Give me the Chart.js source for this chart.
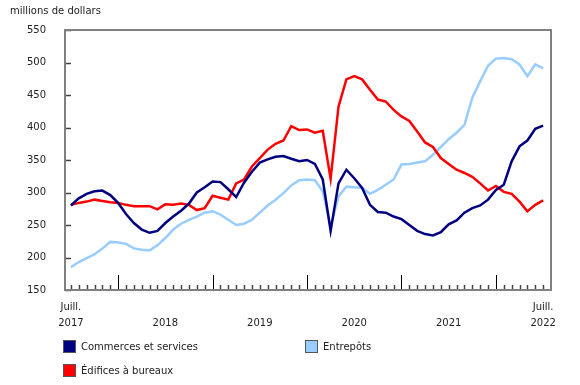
<!DOCTYPE html>
<html>
<head>
<meta charset="utf-8">
<script src="https://cdn.jsdelivr.net/npm/chart.js@4.4.0/dist/chart.umd.min.js"></script>
<style>
body { margin: 0; background: #fff; font-family: "DejaVu Sans", Verdana, sans-serif; }
#wrap { position: relative; width: 580px; height: 385px; }
#title { position: absolute; left: 10px; top: 5px; font-size: 10px; color: #222; }
.leg { position: absolute; font-size: 10px; color: #222; display: flex; align-items: center; }
.leg span { display: inline-block; width: 11px; height: 11px; border: 1px solid #555; margin-right: 5px; }
</style>
</head>
<body>
<div id="wrap">
    <canvas id="myChart" width="580" height="385"></canvas>
    <div id="title">millions de dollars</div>
    <div id="legend"></div>
</div>
<script>
// monthly, juillet 2017 -> juillet 2022
var months = ["2017-07", "2017-08", "2017-09", "2017-10", "2017-11", "2017-12",
    "2018-01", "2018-02", "2018-03", "2018-04", "2018-05", "2018-06", "2018-07", "2018-08", "2018-09", "2018-10", "2018-11", "2018-12",
    "2019-01", "2019-02", "2019-03", "2019-04", "2019-05", "2019-06", "2019-07", "2019-08", "2019-09", "2019-10", "2019-11", "2019-12",
    "2020-01", "2020-02", "2020-03", "2020-04", "2020-05", "2020-06", "2020-07", "2020-08", "2020-09", "2020-10", "2020-11", "2020-12",
    "2021-01", "2021-02", "2021-03", "2021-04", "2021-05", "2021-06", "2021-07", "2021-08", "2021-09", "2021-10", "2021-11", "2021-12",
    "2022-01", "2022-02", "2022-03", "2022-04", "2022-05", "2022-06", "2022-07"];

var commerces = [280, 291, 298, 302, 303, 296, 284, 267, 253, 243,
    238, 241, 253, 263, 272, 283, 300, 308, 317, 316,
    305, 293, 315, 332, 346, 351, 355, 356, 352, 348,
    350, 344, 320, 241, 314, 335, 322, 307, 281, 270,
    269, 263, 259, 250, 241, 236, 234, 239, 251, 257,
    269, 276, 280, 289, 304, 312, 348, 371, 380, 398,
    403];

var entrepots = [185, 193, 199, 205, 214, 224, 223, 221, 214, 212,
    211, 219, 230, 243, 252, 258, 263, 269, 271, 266,
    258, 250, 252, 258, 269, 280, 289, 299, 311, 319,
    320, 319, 302, 247, 294, 309, 308, 307, 298, 304,
    312, 320, 343, 344, 346, 348, 358, 370, 382, 392,
    404, 446, 471, 495, 506, 507, 505, 497, 479, 497,
    491];

var bureaux = [281, 284, 286, 289, 287, 285, 284, 281, 279, 279,
    279, 274, 282, 281, 283, 281, 273, 276, 295, 292,
    289, 314, 320, 340, 353, 366, 375, 380, 402, 396,
    397, 392, 395, 321, 432, 474, 479, 474, 458, 443,
    440, 427, 417, 410, 394, 377, 370, 353, 344, 335,
    330, 324, 314, 303, 310, 301, 298, 286, 271, 281,
    288];

var xTickPositions = [0, 12, 24, 36, 48, 60];
var xTickLabels = [["Juill.", "2017"], ["", "2018"], ["", "2019"], ["", "2020"], ["", "2021"], ["Juill.", "2022"]];
var yTicks = [150, 200, 250, 300, 350, 400, 450, 500, 550];

var seriesNames = ["Commerces et services", "Entrepôts", "Édifices à bureaux"];
var seriesColors = ["#000080", "#99ccff", "#ff0000"];

function toPoints(values) {
    return values.map((v, i) => ({ x: i, y: v }));
}

// frame + inside tick marks
var framePlugin = {
    id: 'frame',
    afterDatasetsDraw(chart) {
        var ctx = chart.ctx;
        var a = chart.chartArea;
        var xs = chart.scales.x;
        var ys = chart.scales.y;
        ctx.save();

        ctx.strokeStyle = "#444";
        ctx.lineWidth = 1.5;
        for (var i = 0; i < months.length; i++) {
            if (months[i].slice(5) == "01") continue;
            var x = Math.round(xs.getPixelForValue(i)) + 0.5;
            ctx.beginPath();
            ctx.moveTo(x, a.bottom);
            ctx.lineTo(x, a.bottom - 5);
            ctx.stroke();
        }
        ctx.strokeStyle = "#000";
        ctx.lineWidth = 1;
        for (var j = 0; j < months.length; j++) {
            if (months[j].slice(5) != "01") continue;
            var xm = Math.round(xs.getPixelForValue(j)) + 0.5;
            ctx.beginPath();
            ctx.moveTo(xm, a.bottom);
            ctx.lineTo(xm, a.bottom - 15);
            ctx.stroke();
        }

        ctx.strokeStyle = "#444";
        ctx.lineWidth = 1.5;
        yTicks.forEach((v) => {
            var y = Math.round(ys.getPixelForValue(v)) + 0.5;
            ctx.beginPath();
            ctx.moveTo(a.left, y);
            ctx.lineTo(a.left + 6, y);
            ctx.stroke();
        });

        ctx.strokeStyle = "#808080";
        ctx.lineWidth = 2;
        ctx.strokeRect(a.left, a.top, a.right - a.left, a.bottom - a.top);
        ctx.restore();
    }
};

var chart = new Chart(document.getElementById("myChart"), {
    type: 'line',
    data: {
        datasets: [0, 1, 2].map((k) => ({
            label: seriesNames[k],
            data: toPoints([commerces, entrepots, bureaux][k]),
            borderColor: seriesColors[k],
            backgroundColor: seriesColors[k],
            borderWidth: 2.5,
            pointRadius: 0,
            tension: 0,
            order: k == 0 ? 0 : (k == 1 ? 2 : 1)
        }))
    },
    options: {
        responsive: false,
        animation: false,
        layout: { padding: { top: 30, right: 29, left: 0, bottom: 0 } },
        plugins: { legend: { display: false }, tooltip: { enabled: false } },
        scales: {
            x: {
                type: 'linear',
                min: -0.75,
                max: 61,
                grid: { display: false },
                border: { display: false },
                afterBuildTicks: (s) => { s.ticks = xTickPositions.map((v) => ({ value: v })); },
                afterFit: (s) => { s.height = 95; },
                ticks: {
                    autoSkip: false,
                    maxRotation: 0,
                    padding: 1,
                    color: "#222",
                    font: { family: "DejaVu Sans", size: 10, lineHeight: 1.6 },
                    callback: (v) => xTickLabels[xTickPositions.indexOf(v)]
                }
            },
            y: {
                min: 150,
                max: 550,
                grid: { display: false },
                border: { display: false },
                afterFit: (s) => { s.width = 65; },
                ticks: {
                    stepSize: 50,
                    padding: 11,
                    color: "#222",
                    font: { family: "DejaVu Sans", size: 10 }
                }
            }
        }
    },
    plugins: [framePlugin]
});

var legendPos = [[63, 340], [305, 340], [63, 364]];
var legend = document.getElementById("legend");
seriesNames.forEach((name, k) => {
    var d = document.createElement('div');
    d.className = "leg";
    d.style.left = legendPos[k][0] + "px";
    d.style.top = legendPos[k][1] + "px";
    d.innerHTML = '<span style="background:' + seriesColors[k] + '"></span>' + name;
    legend.append(d);
});
</script>
</body>
</html>
